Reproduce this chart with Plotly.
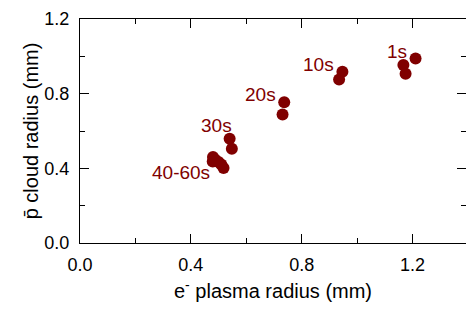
import plotly.graph_objects as go

# Data
e_radius = [1.211, 1.167, 1.175, 0.947, 0.935, 0.737, 0.731, 0.540, 0.548,
            0.480, 0.488, 0.500, 0.518, 0.479, 0.510]
p_radius = [0.989, 0.953, 0.907, 0.918, 0.876, 0.754, 0.688, 0.559, 0.505,
            0.461, 0.446, 0.434, 0.402, 0.437, 0.420]

label_text = ["1s", "10s", "20s", "30s", "40-60s"]
label_x = [1.144, 0.859, 0.650, 0.492, 0.364]
label_y = [1.027, 0.954, 0.793, 0.632, 0.376]

x_ticks = [0.0, 0.4, 0.8, 1.2]
y_ticks = [0.0, 0.4, 0.8, 1.2]

RED = "#800000"
FONT = "Liberation Sans, Arial, sans-serif"

fig = go.Figure()
fig.add_trace(go.Scatter(
    x=e_radius, y=p_radius, mode="markers",
    marker=dict(color=RED, size=12, line=dict(width=0)),
    showlegend=False, hoverinfo="skip"))

for t, x, y in zip(label_text, label_x, label_y):
    fig.add_annotation(x=x, y=y, text=t, showarrow=False, xref="x", yref="y",
                       xanchor="center", yanchor="middle",
                       font=dict(family=FONT, size=19, color=RED))

axis_common = dict(
    showline=True, linecolor="black", linewidth=1.3, mirror="ticks",
    ticks="inside", ticklen=9, tickwidth=1.3, tickcolor="black",
    showgrid=False, zeroline=False, automargin=False,
    tickfont=dict(family=FONT, size=18, color="black"),
    tickformat=".1f",
    minor=dict(ticks="inside", ticklen=5, tickwidth=1.3, tickcolor="black", dtick=0.2, showgrid=False),
)

fig.update_xaxes(range=[0, 1.393], tickvals=x_ticks, ticklabelstandoff=5,
                 title=dict(text="e<sup>-</sup> plasma radius (mm)",
                            font=dict(family=FONT, size=20, color="black"), standoff=10),
                 **axis_common)
fig.update_yaxes(range=[0, 1.2], tickvals=y_ticks, ticklabelstandoff=6,
                 title=dict(text="p\u0304 cloud radius (mm)",
                            font=dict(family=FONT, size=20, color="black"), standoff=0),
                 **axis_common)

fig.update_layout(
    width=466, height=309,
    margin=dict(l=80, r=0, t=19, b=66),
    plot_bgcolor="white", paper_bgcolor="white",
    font=dict(family=FONT),
)

fig.write_html("out.html", config={"displayModeBar": False},
               post_script="document.body.style.margin='0';document.body.style.overflow='hidden';")
